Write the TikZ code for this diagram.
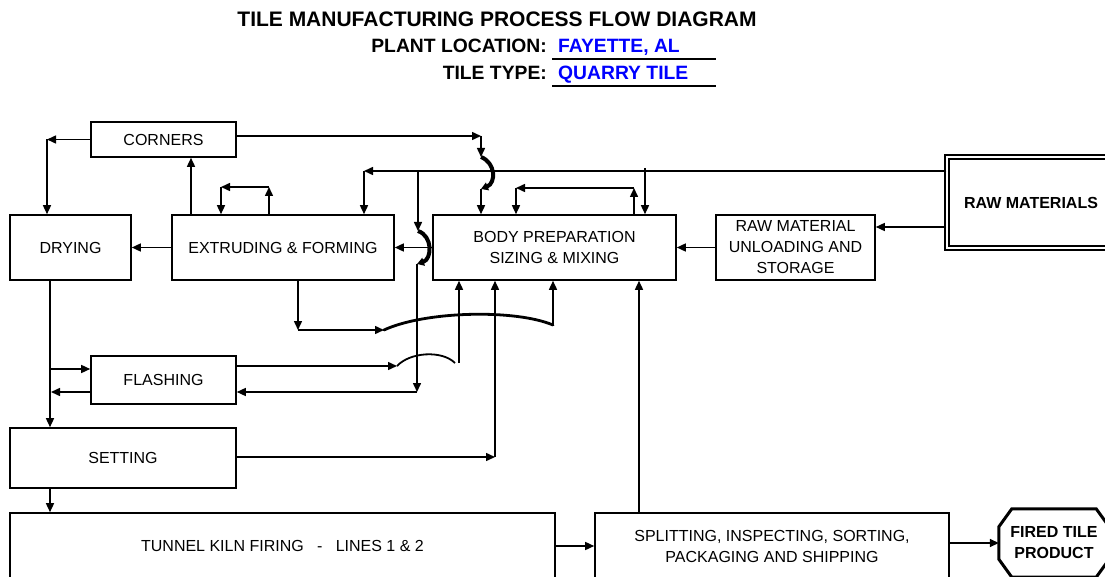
\documentclass[tikz,border=0pt]{standalone}
\usepackage{fontspec}
\setmainfont{Liberation Sans}
\usetikzlibrary{arrows.meta,calc}
\tikzset{box/.style={draw,line width=1.6pt,align=center,inner sep=0pt,font=\fontsize{16}{21}\selectfont},
  rawbox/.style={box,draw=black,double=white,double distance=2.4pt,line width=1.5pt,font=\bfseries\fontsize{16}{21}\selectfont},
  octo/.style={line width=3pt,line join=miter},
  arr/.style={-{Triangle[length=9pt,width=8pt]},line width=1.5pt},
  hop/.style={-{Triangle[length=7pt,width=8pt]},line width=4pt},
  bighop/.style={line width=2.8pt,line cap=round},
  smallhop/.style={line width=1.8pt},
  ttl/.style={font=\bfseries\fontsize{21}{24}\selectfont,inner sep=0pt},
  sub/.style={font=\bfseries\fontsize{19.3}{22}\selectfont,inner sep=0pt}}

\begin{document}
\begin{tikzpicture}[x=1pt,y=-1pt]
\useasboundingbox (0,0) rectangle (1105,577);
\clip (0,0) rectangle (1105,577);
% heading
\node[ttl,anchor=base] (title) at (497,27) {TILE MANUFACTURING PROCESS FLOW DIAGRAM};
\node[sub,anchor=base east] (loc) at (547,53) {PLANT LOCATION:};
\node[sub,anchor=base west,text=blue] (locv) at (558,53) {FAYETTE, AL};
\node[sub,anchor=base east] (typ) at (547,80) {TILE TYPE:};
\node[sub,anchor=base west,text=blue] (typv) at (558,80) {QUARRY TILE};
\draw[line width=1.5pt] (552,59) -- (716,59);
\draw[line width=1.5pt] (552,86) -- (716,86);
% process boxes
\node[box,minimum width=145,minimum height=35] (cor) at (163.5,139.5) {CORNERS};
\node[box,minimum width=121,minimum height=65] (dry) at (70.5,247.5) {DRYING};
\node[box,minimum width=222,minimum height=65] (ext) at (283,247.5) {EXTRUDING \& FORMING};
\node[box,minimum width=243,minimum height=65] (body) at (554.5,247.5) {BODY PREPARATION\\SIZING \& MIXING};
\node[box,minimum width=159,minimum height=65] (rmu) at (795.5,247.5) {RAW MATERIAL\\UNLOADING AND\\STORAGE};
\node[rawbox,minimum width=168,minimum height=91] (raw) at (1031,202.5) {RAW MATERIALS};
\node[box,minimum width=145,minimum height=48] (fla) at (163.5,380) {FLASHING};
\node[box,minimum width=226,minimum height=60] (set) at (123,458) {SETTING};
\node[box,minimum width=545,minimum height=66] (kiln) at (282.5,546) {TUNNEL KILN FIRING~~~-~~~LINES 1 \& 2};
\node[box,minimum width=354,minimum height=66] (spl) at (772,546) {SPLITTING, INSPECTING, SORTING,\\PACKAGING AND SHIPPING};
\node[font=\bfseries\fontsize{16}{21}\selectfont,align=center,inner sep=0pt,minimum width=110,minimum height=68] (fired) at (1054,543) {FIRED TILE\\PRODUCT};
\draw[octo] ([xshift=13pt]fired.north west) -- ([xshift=-13pt]fired.north east) -- ([yshift=-18pt]fired.north east)
  -- ([yshift=18pt]fired.south east) -- ([xshift=-13pt]fired.south east) -- ([xshift=13pt]fired.south west)
  -- ([yshift=18pt]fired.south west) -- ([yshift=-18pt]fired.north west) -- cycle;
% corners, drying, extruding
\coordinate (k1) at (47,139.5);
\draw[arr] (cor.west) -- (k1);
\draw[arr] (k1) -- (k1 |- dry.north);
\draw[arr] (ext.west) -- (dry.east);
\coordinate (k2) at (191,0);
\draw[arr] (k2 |- ext.north) -- (k2 |- cor.south);
\coordinate (k3) at (269,187); \coordinate (k4) at (221,187);
\draw[arr] (k3 |- ext.north) -- (k3);
\draw[arr] (k3) -- (k4);
\draw[arr] (k4) -- (k4 |- ext.north);
% corners to body, hop over the raw line
\coordinate (k5) at (481,136); \coordinate (k6) at (481,157); \coordinate (k7) at (481,189);
\draw[arr] (cor.east |- k5) -- (k5);
\draw[arr] (k5) -- (k6);
\draw[hop] (k6) .. controls +(15,6) and +(15,-6) .. (k7);
\draw[arr] (k7) -- (k7 |- body.north);
% raw materials line
\coordinate (k8) at (364,171);
\draw[arr] (raw.west |- k8) -- (k8);
\draw[arr] (k8) -- (k8 |- ext.north);
\coordinate (k9) at (645,168);
\draw[arr] (k9) -- (k9 |- body.north);
\coordinate (k10) at (418,171); \coordinate (k11) at (418,231);
\coordinate (k12) at (417,264); \coordinate (k13) at (417,392);
\draw[arr] (k10) -- (k11);
\draw[hop] (k11) .. controls +(15,5) and +(15,-5) .. (k12);
\draw[arr] (k12) -- (k13);
\draw[arr] (k13) -- (k13 -| fla.east);
\draw[arr] (body.west) -- (ext.east);
% body recycle
\coordinate (k14) at (634,188); \coordinate (k15) at (516,188);
\draw[arr] (k14 |- body.north) -- (k14);
\draw[arr] (k14) -- (k15);
\draw[arr] (k15) -- (k15 |- body.north);
\draw[arr] (rmu.west) -- (body.east);
\coordinate (r1) at (0,227);
\draw[arr] (raw.west |- r1) -- (rmu.east |- r1);
% extruding scrap to body
\coordinate (k17) at (298,330); \coordinate (k18) at (384,330); \coordinate (k19) at (553,325);
\draw[arr] (k17 |- ext.south) -- (k17);
\draw[arr] (k17) -- (k18);
\draw[bighop] (k18) .. controls (425,311) and (515,309) .. (k19);
\draw[arr] (k19) -- (k19 |- body.south);
% flashing
\coordinate (k20) at (397,366); \coordinate (k21) at (455,363); \coordinate (k22) at (459,363);
\draw[arr] (fla.east |- k20) -- (k20);
\draw[smallhop] (k20) .. controls (410,352) and (442,350) .. (k21);
\draw[arr] (k22) -- (k22 |- body.south);
\coordinate (k23) at (50,0);
\draw[arr] (k23 |- dry.south) -- (k23 |- set.north);
\draw[arr] (k23 |- set.south) -- (k23 |- kiln.north);
\coordinate (k24) at (51,369); \coordinate (k25) at (51,392);
\draw[arr] (k24) -- (k24 -| fla.west);
\draw[arr] (fla.west |- k25) -- (k25);
% setting, kiln, shipping
\coordinate (k26) at (495,457);
\draw[arr] (set.east |- k26) -- (k26);
\draw[arr] (k26) -- (k26 |- body.south);
\coordinate (k27) at (639,0);
\draw[arr] (k27 |- spl.north) -- (k27 |- body.south);
\draw[arr] (kiln.east) -- (spl.west);
\draw[arr] (spl.east |- fired.west) -- (fired.west);
\end{tikzpicture}
\end{document}
